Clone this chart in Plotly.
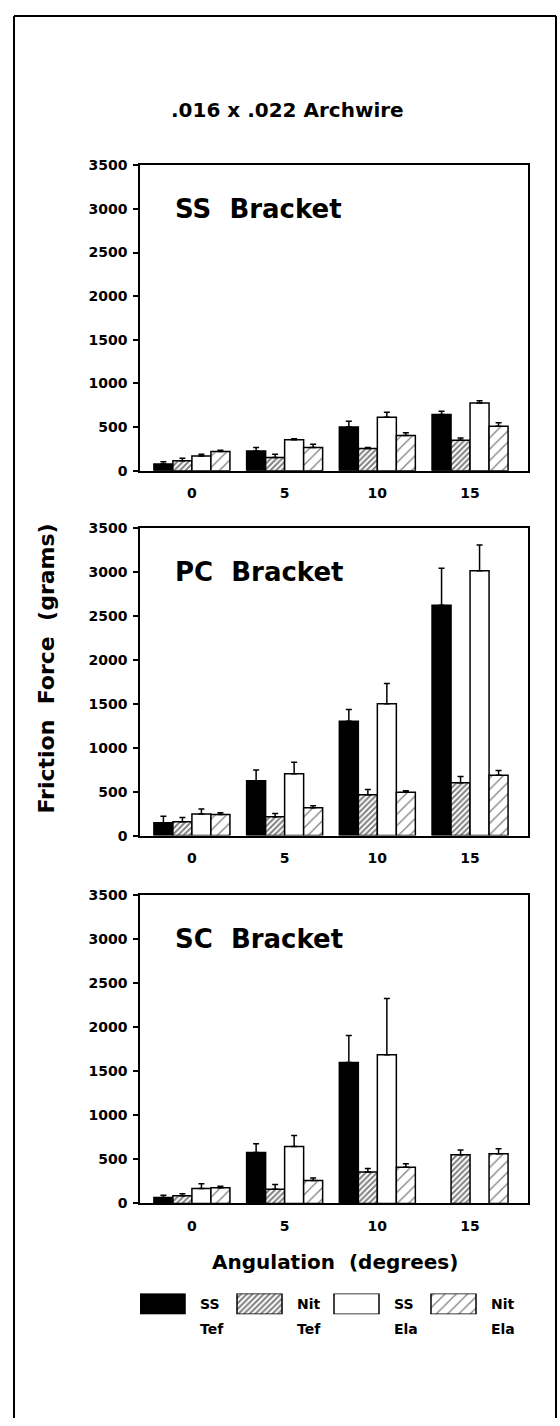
import plotly.graph_objects as go

# ---------------- data ----------------
angles = ["0", "5", "10", "15"]
series_names = ["SS Tef", "Nit Tef", "SS Ela", "Nit Ela"]
legend_top = ["SS", "Nit", "SS", "Nit"]
legend_bottom = ["Tef", "Tef", "Ela", "Ela"]
y_ticks = [0, 500, 1000, 1500, 2000, 2500, 3000, 3500]
panel_labels = ["SS  Bracket", "PC  Bracket", "SC  Bracket"]
chart_title = ".016 x .022 Archwire"
x_title = "Angulation  (degrees)"
y_title = "Friction  Force  (grams)"

# SS bracket (means, upper error)
ss_ss_tef = [76, 227, 500, 644]
ss_ss_tef_err = [26, 38, 68, 38]
ss_nit_tef = [114, 152, 254, 348]
ss_nit_tef_err = [30, 37, 11, 27]
ss_ss_ela = [170, 356, 614, 777]
ss_ss_ela_err = [19, 11, 56, 26]
ss_nit_ela = [220, 265, 405, 511]
ss_nit_ela_err = [15, 38, 31, 38]

# PC bracket
pc_ss_tef = [147, 624, 1301, 2621]
pc_ss_tef_err = [73, 124, 135, 421]
pc_nit_tef = [158, 215, 466, 602]
pc_nit_tef_err = [48, 37, 60, 71]
pc_ss_ela = [245, 703, 1500, 3015]
pc_ss_ela_err = [58, 132, 230, 294]
pc_nit_ela = [241, 317, 493, 688]
pc_nit_ela_err = [19, 22, 18, 53]

# SC bracket
sc_ss_tef = [68, 579, 1598, None]
sc_ss_tef_err = [26, 98, 308, None]
sc_nit_tef = [86, 162, 357, 553]
sc_nit_tef_err = [23, 52, 38, 52]
sc_ss_ela = [169, 647, 1688, None]
sc_ss_ela_err = [53, 124, 636, None]
sc_nit_ela = [177, 259, 410, 564]
sc_nit_ela_err = [19, 31, 41, 56]

panels = [
    [(ss_ss_tef, ss_ss_tef_err), (ss_nit_tef, ss_nit_tef_err), (ss_ss_ela, ss_ss_ela_err), (ss_nit_ela, ss_nit_ela_err)],
    [(pc_ss_tef, pc_ss_tef_err), (pc_nit_tef, pc_nit_tef_err), (pc_ss_ela, pc_ss_ela_err), (pc_nit_ela, pc_nit_ela_err)],
    [(sc_ss_tef, sc_ss_tef_err), (sc_nit_tef, sc_nit_tef_err), (sc_ss_ela, sc_ss_ela_err), (sc_nit_ela, sc_nit_ela_err)],
]

# ---------------- layout helpers ----------------
W, H = 560, 1426
def px(x):
    return x / W
def py(y):
    return 1 - y / H

LINE = 1.5
styles = [
    dict(color="black", line=dict(color="black", width=LINE)),
    dict(color="white", line=dict(color="black", width=LINE),
         pattern=dict(shape="/", fgcolor="black", bgcolor="white", size=4, solidity=0.5)),
    dict(color="white", line=dict(color="black", width=LINE)),
    dict(color="white", line=dict(color="black", width=LINE),
         pattern=dict(shape="/", fgcolor="black", bgcolor="white", size=8, solidity=0.16)),
]

BOLD = "DejaVu Sans"
fig = go.Figure()

x_pos = list(range(len(angles)))
panel_y = [(159, 468), (526, 837), (897, 1209)]
x_dom = [px(140), px(528)]

for p, series in enumerate(panels):
    xa = "x" if p == 0 else f"x{p+1}"
    ya = "y" if p == 0 else f"y{p+1}"
    for s, (vals, errs) in enumerate(series):
        fig.add_trace(go.Bar(
            x=x_pos, y=vals, name=series_names[s], xaxis=xa, yaxis=ya,
            marker=styles[s], showlegend=False,
            error_y=dict(type="data", symmetric=False, array=errs,
                         arrayminus=[0] * len(errs), color="black",
                         thickness=1.5, width=3),
        ))

# legend swatches in their own small axis
for s, name in enumerate(series_names):
    fig.add_trace(go.Bar(
        x=[s], y=[1], base=0, offset=0, width=0.464, xaxis="x4", yaxis="y4",
        marker=styles[s], showlegend=False, name=name, hoverinfo="skip",
    ))

layout_axes = {}
for p, (top, bot) in enumerate(panel_y):
    suffix = "" if p == 0 else str(p + 1)
    layout_axes[f"xaxis{suffix}"] = dict(
        domain=x_dom, anchor=f"y{suffix}", range=[-0.56, 3.625],
        tickvals=x_pos, ticktext=angles, showline=True, mirror=True,
        linecolor="black", linewidth=LINE, ticks="", showgrid=False,
        zeroline=False, ticklabelstandoff=9,
        tickfont=dict(family=BOLD, size=14, color="black", weight="bold"),
    )
    layout_axes[f"yaxis{suffix}"] = dict(
        domain=[py(bot), py(top)], anchor=f"x{suffix}", range=[0, 3500],
        tickvals=y_ticks, showline=True, mirror=True, linecolor="black",
        linewidth=LINE, ticks="outside", ticklen=5, tickwidth=1.5,
        tickcolor="black", showgrid=False, zeroline=False,
        ticklabelstandoff=3,
        tickfont=dict(family=BOLD, size=14, color="black", weight="bold"),
    )

layout_axes["xaxis4"] = dict(domain=[px(140), px(140 + 4 * 97)], anchor="y4",
                             range=[0, 4], visible=False)
layout_axes["yaxis4"] = dict(domain=[py(1321), py(1300)], anchor="x4",
                             range=[0, 1], visible=False)

annotations = []
for p in range(3):
    suffix = "" if p == 0 else str(p + 1)
    annotations.append(dict(
        text=panel_labels[p], xref=f"x{suffix} domain", yref=f"y{suffix}",
        x=(173 - 140) / 388, y=3000, xanchor="left", yanchor="middle",
        showarrow=False, font=dict(family=BOLD, size=26, color="black", weight="bold"),
    ))

annotations.append(dict(
    text=chart_title, xref="paper", yref="paper", x=px(287), y=py(103),
    xanchor="center", yanchor="middle", showarrow=False,
    font=dict(family=BOLD, size=20, color="black", weight="bold"),
))
annotations.append(dict(
    text=x_title, xref="paper", yref="paper", x=px(335), y=py(1268),
    xanchor="center", yanchor="middle", showarrow=False,
    font=dict(family=BOLD, size=20, color="black", weight="bold"),
))
annotations.append(dict(
    text=y_title, xref="paper", yref="paper", x=px(47), y=py(668),
    xanchor="center", yanchor="middle", showarrow=False, textangle=-90,
    font=dict(family=BOLD, size=22, color="black", weight="bold"),
))
for s in range(len(series_names)):
    annotations.append(dict(
        text=legend_top[s], xref="x4", yref="paper", x=s + 0.6, y=py(1311),
        xanchor="left", yanchor="middle", showarrow=False,
        font=dict(family=BOLD, size=14, color="black", weight="bold"),
    ))
    annotations.append(dict(
        text=legend_bottom[s], xref="x4", yref="paper", x=s + 0.6, y=py(1336),
        xanchor="left", yanchor="middle", showarrow=False,
        font=dict(family=BOLD, size=14, color="black", weight="bold"),
    ))

shapes = [
    dict(type="line", xref="paper", yref="paper", x0=px(14), x1=px(556),
         y0=py(8), y1=py(8), line=dict(color="black", width=2)),
    dict(type="line", xref="paper", yref="paper", x0=px(14), x1=px(14),
         y0=py(8), y1=0, line=dict(color="black", width=2)),
    dict(type="line", xref="paper", yref="paper", x0=px(556), x1=px(556),
         y0=py(8), y1=0, line=dict(color="black", width=2)),
]

fig.update_layout(
    width=W, height=H, margin=dict(l=0, r=0, t=0, b=0),
    paper_bgcolor="white", plot_bgcolor="white",
    barmode="group", bargap=0.18, bargroupgap=0,
    annotations=annotations, shapes=shapes, showlegend=False,
    hovermode=False,
    **layout_axes,
)

fig.write_html("out.html", config={"displayModeBar": False},
               post_script="document.body.style.margin='0';document.body.style.overflow='hidden';")
